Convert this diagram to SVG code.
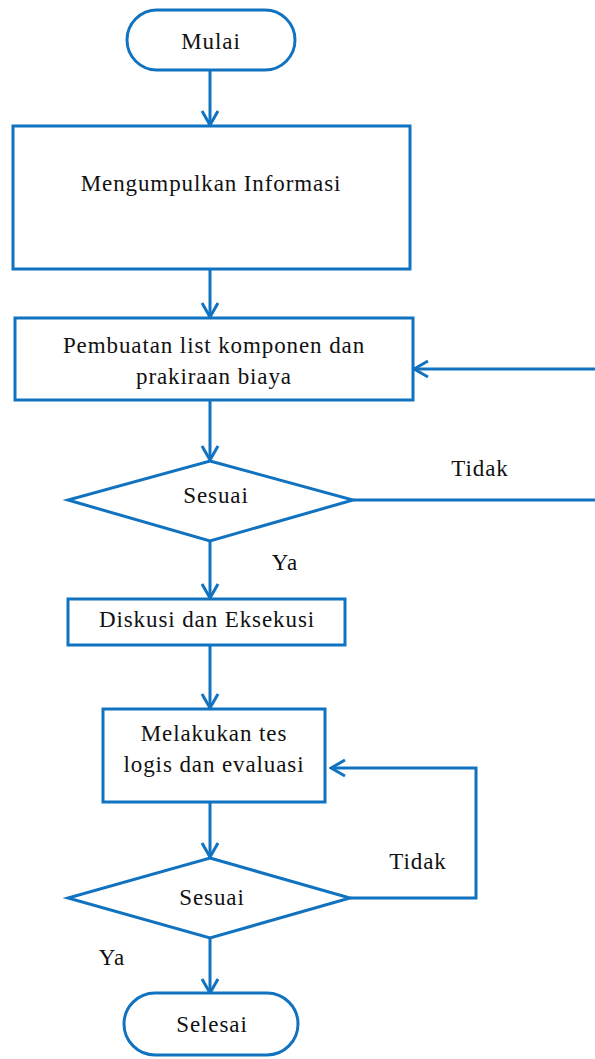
<svg xmlns="http://www.w3.org/2000/svg" width="595" height="1059" viewBox="0 0 595 1059">
<style>
.s{fill:#fff;stroke:#1173C0;stroke-width:3}
.c{fill:none;stroke:#1173C0;stroke-width:3}
.t{font-family:'Liberation Serif','DejaVu Serif',serif;font-size:23px;letter-spacing:0.9px;fill:#111;text-anchor:middle}
</style>
<defs>
<marker id="a" viewBox="0 0 20 20" refX="18" refY="10" markerWidth="20" markerHeight="20" markerUnits="userSpaceOnUse" orient="auto">
<polyline points="4,2 18,10 4,18" fill="none" stroke="#1173C0" stroke-width="3"/>
</marker>
</defs>
<g id="connectors">
<line class="c" x1="210" y1="70" x2="210" y2="125" marker-end="url(#a)"/>
<line class="c" x1="210" y1="269" x2="210" y2="317" marker-end="url(#a)"/>
<line class="c" x1="595" y1="369" x2="414" y2="369" marker-end="url(#a)"/>
<line class="c" x1="210" y1="400" x2="210" y2="460" marker-end="url(#a)"/>
<line class="c" x1="353" y1="500" x2="595" y2="500"/>
<line class="c" x1="210" y1="541" x2="210" y2="598" marker-end="url(#a)"/>
<line class="c" x1="210" y1="645" x2="210" y2="708" marker-end="url(#a)"/>
<line class="c" x1="210" y1="802" x2="210" y2="857" marker-end="url(#a)"/>
<polyline class="c" points="350,898 476,898 476,768 331,768" marker-end="url(#a)"/>
<line class="c" x1="210" y1="938" x2="210" y2="993" marker-end="url(#a)"/>
<text class="t" x="480" y="476">Tidak</text>
<text class="t" x="285" y="570">Ya</text>
<text class="t" x="418" y="869">Tidak</text>
<text class="t" x="112" y="965">Ya</text>
</g>
<g id="mulai">
<rect class="s" x="127" y="10" width="168" height="60" rx="30"/>
<text class="t" x="211" y="49">Mulai</text>
</g>
<g id="informasi">
<rect class="s" x="13" y="126" width="397" height="143"/>
<text class="t" x="211" y="191">Mengumpulkan Informasi</text>
</g>
<g id="list">
<rect class="s" x="15" y="318" width="398" height="82"/>
<text class="t" x="214" y="353">Pembuatan list komponen dan</text>
<text class="t" x="214" y="384">prakiraan biaya</text>
</g>
<g id="sesuai1">
<polygon class="s" points="210,461 353,500 210,541 68,500"/>
<text class="t" x="216" y="503">Sesuai</text>
</g>
<g id="diskusi">
<rect class="s" x="68" y="599" width="277" height="46"/>
<text class="t" x="207" y="627">Diskusi dan Eksekusi</text>
</g>
<g id="tes">
<rect class="s" x="103" y="709" width="222" height="93"/>
<text class="t" x="214" y="741">Melakukan tes</text>
<text class="t" x="214" y="772">logis dan evaluasi</text>
</g>
<g id="sesuai2">
<polygon class="s" points="210,858 350,898 210,938 68,898"/>
<text class="t" x="212" y="905">Sesuai</text>
</g>
<g id="selesai">
<rect class="s" x="124" y="993" width="174" height="62" rx="31"/>
<text class="t" x="212" y="1032">Selesai</text>
</g>
</svg>
